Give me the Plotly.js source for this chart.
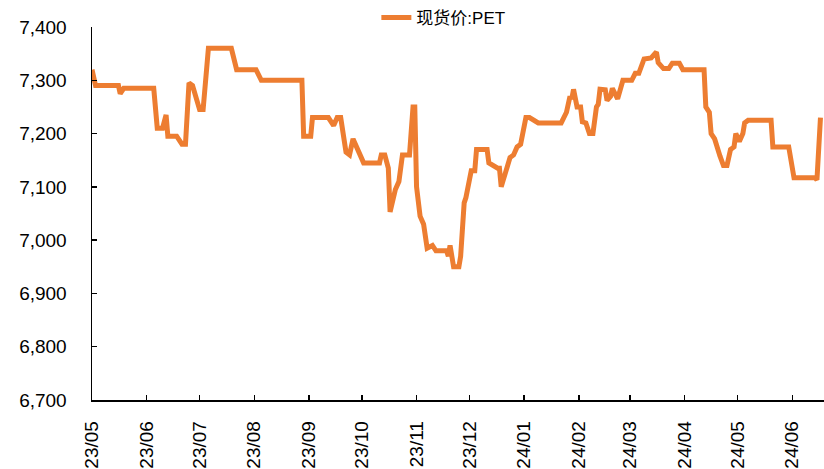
<!DOCTYPE html>
<html>
<head>
<meta charset="utf-8">
<script src="https://cdn.plot.ly/plotly-3.0.1.min.js"></script>
<style>html,body{margin:0;padding:0;background:#fff;}#chart{width:824px;height:469px;}</style>
</head>
<body>
<div id="chart"></div>
<script>
const seriesName = '现货价:PET';
const dates = [
'2023-05-01','2023-05-03','2023-05-16','2023-05-17','2023-05-19','2023-06-05','2023-06-07','2023-06-10','2023-06-12','2023-06-13',
'2023-06-18','2023-06-21','2023-06-23','2023-06-25','2023-06-27','2023-07-01','2023-07-03','2023-07-06','2023-07-19','2023-07-22',
'2023-08-02','2023-08-05','2023-08-28','2023-08-29','2023-09-02','2023-09-03','2023-09-12','2023-09-15','2023-09-17','2023-09-19',
'2023-09-22','2023-09-24','2023-09-26','2023-09-29','2023-10-02','2023-10-11','2023-10-12','2023-10-14','2023-10-16','2023-10-17',
'2023-10-20','2023-10-22','2023-10-24','2023-10-28','2023-10-30','2023-10-31','2023-11-01','2023-11-03','2023-11-05','2023-11-07',
'2023-11-10','2023-11-12','2023-11-18','2023-11-19','2023-11-20','2023-11-22','2023-11-25','2023-11-26','2023-11-28','2023-11-29',
'2023-12-02','2023-12-04','2023-12-05','2023-12-11','2023-12-12','2023-12-17','2023-12-18','2023-12-19','2023-12-22','2023-12-24',
'2023-12-26','2023-12-28','2023-12-30','2024-01-02','2024-01-04','2024-01-07','2024-01-09','2024-01-22','2024-01-25','2024-01-27',
'2024-01-28','2024-01-29','2024-01-31','2024-02-02','2024-02-03','2024-02-05','2024-02-07','2024-02-09','2024-02-11','2024-02-12',
'2024-02-13','2024-02-16','2024-02-17','2024-02-19','2024-02-20','2024-02-23','2024-02-26','2024-03-02','2024-03-04','2024-03-06',
'2024-03-09','2024-03-13','2024-03-16','2024-03-17','2024-03-20','2024-03-23','2024-03-25','2024-03-29','2024-03-31','2024-04-12',
'2024-04-13','2024-04-15','2024-04-16','2024-04-18','2024-04-20','2024-04-21','2024-04-23','2024-04-25','2024-04-27','2024-04-29',
'2024-04-30','2024-05-02','2024-05-04','2024-05-05','2024-05-07','2024-05-20','2024-05-21','2024-05-30','2024-06-02','2024-06-14',
'2024-06-15','2024-06-17'
];
const prices = [
7320,7290,7290,7275,7285,7285,7210,7210,7235,7195,
7195,7180,7180,7295,7290,7245,7245,7360,7360,7320,
7320,7300,7300,7195,7195,7230,7230,7215,7230,7230,
7165,7160,7190,7165,7145,7145,7160,7160,7135,7053,
7095,7110,7160,7160,7250,7250,7100,7045,7030,6985,
6990,6980,6980,6970,6990,6950,6950,6970,7070,7080,
7130,7130,7170,7170,7145,7135,7135,7100,7130,7155,
7160,7175,7180,7230,7230,7225,7220,7220,7240,7270,
7265,7283,7250,7250,7222,7220,7200,7200,7250,7255,
7283,7282,7262,7270,7285,7265,7300,7300,7313,7313,
7340,7342,7353,7333,7322,7322,7332,7332,7320,7320,
7250,7240,7200,7190,7165,7158,7140,7140,7170,7175,
7200,7185,7200,7220,7225,7225,7175,7175,7117,7117,
7113,7230
];
const yTicks = [6700,6800,6900,7000,7100,7200,7300,7400];

const trace = {
  x: dates, y: prices, type: 'scatter', mode: 'lines', name: seriesName,
  line: {color: '#ED7D31', width: 5}
};
const fontFam = 'Arial, "Liberation Sans", "Noto Sans CJK SC", sans-serif';
const layout = {
  width: 824, height: 469,
  margin: {l: 92, r: 0, t: 27, b: 69},
  paper_bgcolor: '#fff', plot_bgcolor: '#fff',
  font: {family: fontFam, color: '#000'},
  showlegend: true,
  legend: {orientation: 'h', x: 0.48, xanchor: 'center', y: 1.025, yanchor: 'middle',
           font: {size: 17, family: fontFam, color: '#000'}, bgcolor: 'rgba(0,0,0,0)'},
  xaxis: {
    type: 'date', range: ['2023-05-01', '2024-06-19'],
    tick0: '2023-05-01', dtick: 'M1', tickformat: '%y/%m', tickangle: -90,
    ticks: 'inside', ticklen: 5, tickcolor: '#000', tickwidth: 1.5,
    showline: true, linecolor: '#000', linewidth: 1.5, showgrid: false, zeroline: false,
    tickfont: {size: 19, family: fontFam, color: '#000'}, ticklabelstandoff: 12
  },
  yaxis: {
    range: [6700, 7400], tickvals: yTicks, tickformat: ',',
    ticks: 'inside', ticklen: 5, tickcolor: '#000', tickwidth: 1.5,
    showline: true, linecolor: '#000', linewidth: 1.5, showgrid: false, zeroline: false,
    tickfont: {size: 19, family: fontFam, color: '#000'}, ticklabelstandoff: 20
  }
};
Plotly.newPlot('chart', [trace], layout, {displayModeBar: false, staticPlot: true});
</script>
</body>
</html>
